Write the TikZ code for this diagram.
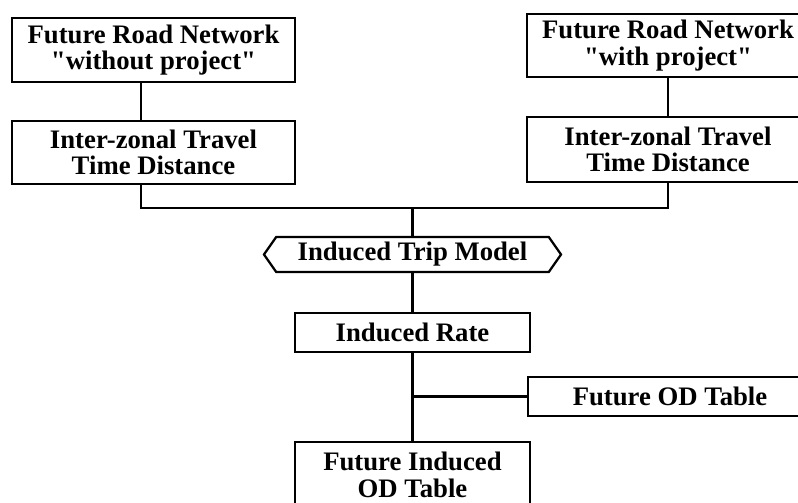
\documentclass[tikz,border=0pt]{standalone}
\usepackage{fontspec}
\setmainfont{Liberation Serif}
\usetikzlibrary{shapes.symbols}

\begin{document}
\begin{tikzpicture}[
        x=0.025cm, y=-0.025cm,
        box/.style={rectangle, draw=black, line width=1.6pt, align=center, inner sep=0pt, font=\bfseries\fontsize{19}{18.8}\selectfont},
        hexbox/.style={signal, signal to=east and west, signal pointer angle=110, draw=black, line width=1.6pt, inner sep=0pt, font=\bfseries\fontsize{19}{18.8}\selectfont},
        conn/.style={draw=black, line width=1.9pt}
    ]
    \useasboundingbox (0,0) rectangle (798,502);
    \clip (0,0) rectangle (798,502);

    % the two networks and their travel times
    \node[box, minimum width=7.075cm, minimum height=1.6cm] (netwo) at (153.5,50) {Future Road Network\\\textquotedbl without project\textquotedbl};
    \node[box, minimum width=7.075cm, minimum height=1.575cm] (timewo) at (153.5,152.5) {Inter-zonal Travel\\Time Distance};
    \node[box, minimum width=7.05cm, minimum height=1.575cm] (netw) at (668,45.5) {Future Road Network\\\textquotedbl with project\textquotedbl};
    \node[box, minimum width=7.05cm, minimum height=1.625cm] (timew) at (668,149.5) {Inter-zonal Travel\\Time Distance};

    % model and results
    \node[hexbox, minimum width=7.425cm, minimum height=0.875cm] (model) at (412.5,254.5) {Induced Trip Model};
    \node[box, minimum width=5.875cm, minimum height=0.975cm] (rate) at (412.5,332.5) {Induced Rate};
    \node[box, minimum width=7.1cm, minimum height=0.975cm] (od) at (670,396.5) {Future OD Table};
    \node[box, minimum width=5.875cm, minimum height=1.65cm] (induced) at (412.5,475) {Future Induced\\OD Table};

    \coordinate (lx) at (141,0);
    \coordinate (jn) at (412.5,208);

    \draw[conn] (netwo.south -| lx) -- (timewo.north -| lx);
    \draw[conn] (netw) -- (timew);
    \draw[conn] (timewo.south -| lx) |- (jn) -| (timew.south);
    \draw[conn] (jn) -- (model.north);
    \draw[conn] (model) -- (rate);
    \draw[conn] (rate) -- (induced);
    \draw[conn] (od.west) -- (od.west -| rate.south);
\end{tikzpicture}
\end{document}
